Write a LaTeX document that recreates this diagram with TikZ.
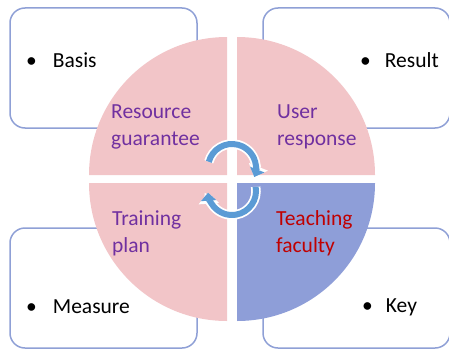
\documentclass[tikz,border=0pt]{standalone}
\usepackage{fontspec}
\setmainfont{Carlito}
\usetikzlibrary{arrows.meta}

\definecolor{petal}{RGB}{242,197,200}
\definecolor{petalblue}{RGB}{142,158,216}
\definecolor{frame}{RGB}{143,160,214}
\definecolor{cyc}{RGB}{91,155,213}
\definecolor{violet}{RGB}{112,48,160}
\definecolor{darkred}{RGB}{192,0,0}

\tikzset{
	panel/.style={draw=frame, line width=1.5pt, rounded corners=15pt, fill=white,
		minimum width=187pt, minimum height=120pt, inner sep=0pt},
	item/.style={anchor=west, inner sep=0pt, font=\fontsize{21.5}{26}\selectfont},
	quad/.style={anchor=west, inner sep=0pt, align=left, text=violet,
		font=\fontsize{21.5}{27}\selectfont},
	cycarrow/.style={draw=cyc, line width=6pt, -{Triangle[width=15pt,length=8pt]},
		preaction={draw=white, line width=9.5pt, -{Triangle[width=20pt,length=11pt]}}}
}

\begin{document}
\begin{tikzpicture}[x=1pt,y=1pt]
	\useasboundingbox (0,0) rectangle (449,349);

	% the four frames behind the circle
	\node[panel] (basisbox) at (103.5,281) {};
	\node[panel] (resultbox) at (356.5,281) {};
	\node[panel] (measurebox) at (103.5,61) {};
	\node[panel] (keybox) at (356.5,61) {};

	\node[item] (basis) at (26,289) {\textbullet\hspace{16pt}Basis};
	\node[item] (result) at (360,289) {\textbullet\hspace{14pt}Result};
	\node[item] (measure) at (26,42) {\textbullet\hspace{16pt}Measure};
	\node[item] (key) at (362,42) {\textbullet\hspace{13pt}Key};

	% exploded circle
	\fill[petal] (227,174) -- ++(-138,0) arc (180:90:138) -- cycle;
	\fill[petal] (237,174) -- ++(0,138) arc (90:0:138) -- cycle;
	\fill[petal] (227,166) -- ++(0,-138) arc (270:180:138) -- cycle;
	\fill[petalblue] (237,166) -- ++(138,0) arc (0:-90:138) -- cycle;

	\node[quad] (resource) at (111,222.5) {Resource\\guarantee};
	\node[quad] (user) at (277,222.5) {User\\response};
	\node[quad] (training) at (112,115.5) {Training\\plan};
	\node[quad, text=darkred] (teaching) at (276,115.5) {Teaching\\faculty};

	% circular arrows
	\coordinate (upc) at (232,181);
	\coordinate (loc) at (232,158);
	\draw[cycarrow] ([shift={(165:24)}]upc) arc (165:-22:24);
	\draw[cycarrow] ([shift={(10:24)}]loc) arc (10:-176:24);
\end{tikzpicture}
\end{document}
